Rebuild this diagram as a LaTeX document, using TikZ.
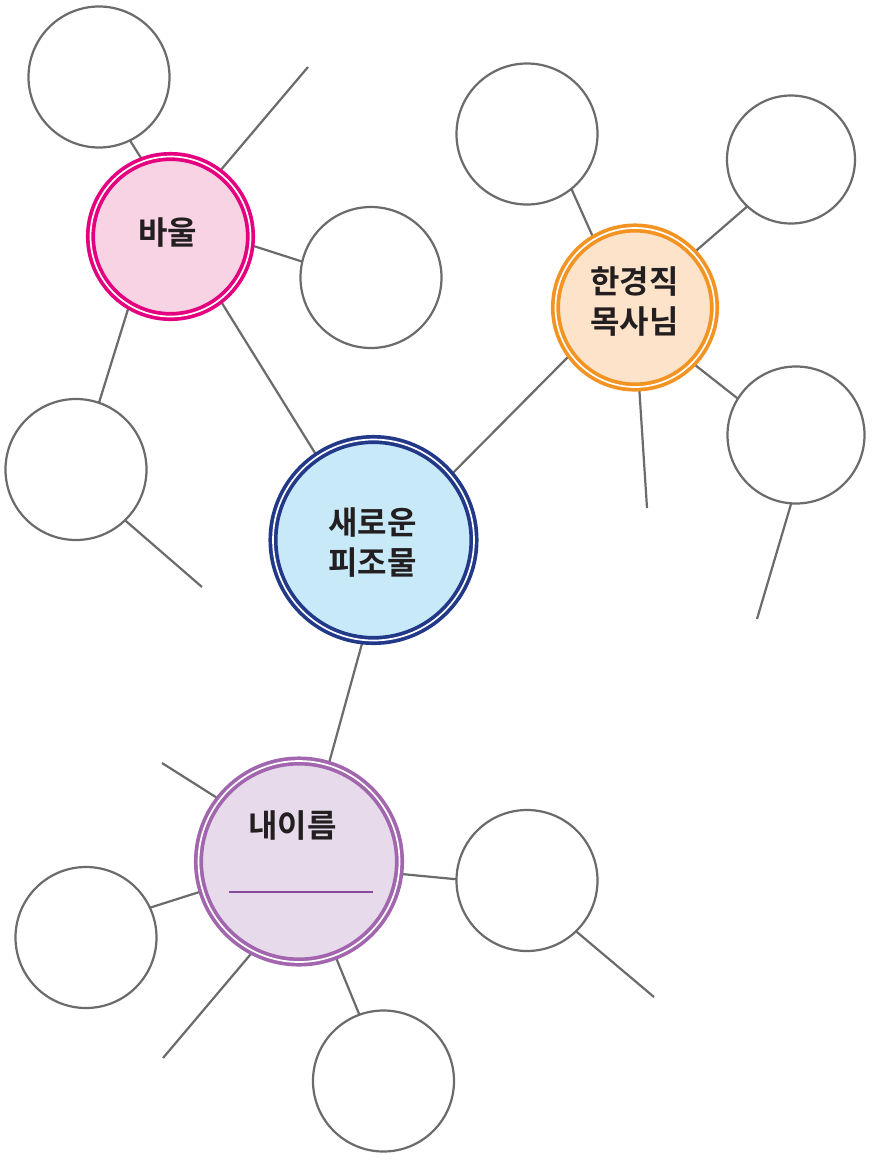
\documentclass[tikz,border=0pt]{standalone}
\usepackage{fontspec}
\newfontfamily\kr{Noto Sans CJK KR}[BoldFont={Noto Sans CJK KR Bold}]
\usetikzlibrary{backgrounds}
\definecolor{ln}{HTML}{6B6B6E}
\definecolor{txt}{HTML}{231F20}
\definecolor{pinkring}{HTML}{E4007F}
\definecolor{pinkfill}{HTML}{F8D3E4}
\definecolor{bluering}{HTML}{22398A}
\definecolor{bluefill}{HTML}{C7E9F8}
\definecolor{orring}{HTML}{F39321}
\definecolor{orfill}{HTML}{FDE3C9}
\definecolor{purring}{HTML}{A266AF}
\definecolor{purfill}{HTML}{E6DAEB}
\definecolor{purline}{HTML}{8A4A9C}
\tikzset{
  blank/.style={circle, draw=ln, line width=2.2pt, fill=white, inner sep=0pt, outer sep=0pt, minimum size=#1},
  hub/.style 2 args={circle, draw=#1, fill=#2, line width=3.7pt, double=white, double distance=1.7pt, inner sep=0pt, outer sep=0pt},
  conn/.style={draw=ln, line width=2.2pt},
  lbl/.style={font=\kr\bfseries\fontsize{32}{40}\selectfont, text=txt, align=center, inner sep=0pt}
}
\begin{document}
\begin{tikzpicture}[x=1pt,y=-1pt]
\useasboundingbox (0,0) rectangle (871,1160);
% hub circles
\node[hub={bluering}{bluefill}, minimum size=201pt] (center) at (373.5,540) {};
\node[hub={pinkring}{pinkfill}, minimum size=160pt] (paul) at (170.5,236.5) {};
\node[hub={orring}{orfill}, minimum size=159pt] (han) at (635,307.5) {};
\node[hub={purring}{purfill}, minimum size=201pt] (me) at (299,861.5) {};
% blank circles
\node[blank=141pt] (b1) at (99,77) {};
\node[blank=141pt] (b2) at (371,277.5) {};
\node[blank=141pt] (b3) at (76,469.5) {};
\node[blank=141pt] (b4) at (527,134) {};
\node[blank=128pt] (b5) at (791,159.5) {};
\node[blank=137pt] (b6) at (796,435) {};
\node[blank=141pt] (b7) at (86,937.5) {};
\node[blank=141pt] (b8) at (527,880.5) {};
\node[blank=141pt] (b9) at (383.5,1081) {};
% labels
\node[lbl] (tpaul) at (167.5,233) {바울};
\node[lbl] (tcenter) at (372.5,542.5) {새로운\\피조물};
\node[lbl] (than) at (634.5,302) {한경직\\목사님};
\node[lbl] (tme) at (292.5,826) {내이름};
\coordinate (ul1) at (229,892);
\coordinate (ul2) at (373,892);
\draw[purline, line width=1.8pt] (ul1) -- (ul2);
% free ends
\coordinate (f1) at (308,67);
\coordinate (f2) at (202,587);
\coordinate (f3) at (647,508);
\coordinate (f4) at (757,619);
\coordinate (f5) at (162,763);
\coordinate (f6) at (163,1058);
\coordinate (f7) at (654,997);
\begin{scope}[on background layer]
\fill[white] (0,0) rectangle (871,1160);
\draw[conn] (paul.110.6) -- (b1.-64);
\draw[conn] (paul.53.5) -- (f1);
\draw[conn] (paul.-6.3) -- (b2.167.7);
\draw[conn] (paul.239.4) -- (b3.71.3);
\draw[conn] (b3.-46.7) -- (f2);
\draw[conn] (paul.-52.8) -- (center.124.7);
\draw[conn] (center.40.2) -- (han.216.5);
\draw[conn] (han.121.9) -- (b4.-51.8);
\draw[conn] (han.43.1) -- (b5.227.5);
\draw[conn] (han.-44.5) -- (b6.148.6);
\draw[conn] (han.-87.2) -- (f3);
\draw[conn] (b6.-94.9) -- (f4);
\draw[conn] (center.-96.7) -- (me.73.1);
\draw[conn] (me.142.5) -- (f5);
\draw[conn] (me.197.9) -- (b7.25.8);
\draw[conn] (me.243.4) -- (f6);
\draw[conn] (me.-69.2) -- (b9.110);
\draw[conn] (me.-7) -- (b8.179);
\draw[conn] (b8.-46.7) -- (f7);
\end{scope}
\end{tikzpicture}
\end{document}
